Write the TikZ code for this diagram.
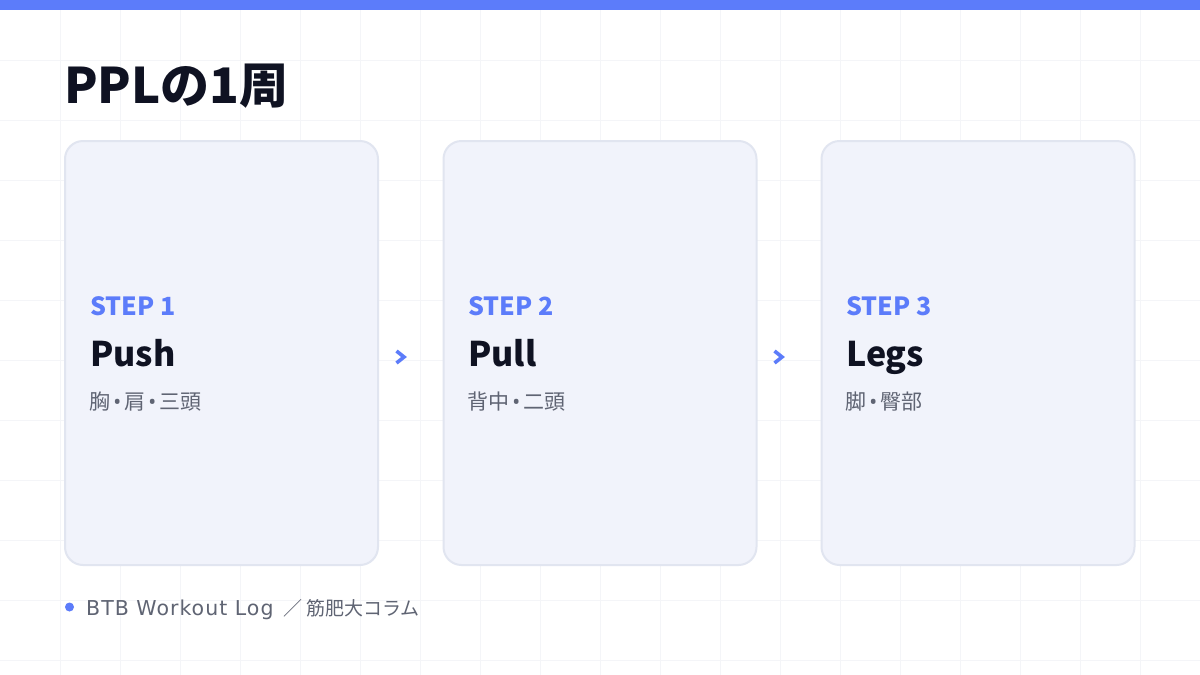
\documentclass[tikz,border=0pt]{standalone}
\usepackage{fontspec}
\setmainfont{Noto Sans CJK JP}
\newfontfamily\latinfont{Noto Sans}
\newfontfamily\footlatin[LetterSpace=5]{DejaVu Sans}
\newcommand{\mdot}{\makebox[14pt][c]{\latinfont\bfseries •}}
\definecolor{topblue}{HTML}{5C7CFA}
\definecolor{titlec}{HTML}{0F1222}
\definecolor{grayc}{HTML}{5F6473}
\definecolor{cardfill}{HTML}{F1F3FB}
\definecolor{cardline}{HTML}{E1E5F0}
\definecolor{gridc}{HTML}{F4F5F8}
\tikzset{
  card/.style={draw=cardline, fill=cardfill, line width=2pt, rounded corners=18pt,
    minimum width=313pt, minimum height=424pt, inner sep=0pt},
  steplbl/.style={anchor=base west, inner sep=0pt, text=topblue,
    font=\fontsize{25}{30}\selectfont\bfseries},
  headlbl/.style={anchor=base west, inner sep=0pt, text=titlec,
    font=\fontsize{34}{40}\selectfont\bfseries},
  sublbl/.style={anchor=base west, inner sep=0pt, text=grayc,
    font=\fontsize{21}{26}\selectfont},
  chevline/.style={draw=topblue, line width=3.6pt, line join=miter, line cap=butt},
}
\begin{document}
\begin{tikzpicture}[x=1pt,y=-1pt]
\useasboundingbox (0,0) rectangle (1200,675);
\fill[white] (0,0) rectangle (1200,675);
\foreach \gx in {60,120,...,1180} {\draw[gridc, line width=0.8pt] (\gx,0) -- (\gx,675);}
\foreach \gy in {60,120,...,660} {\draw[gridc, line width=0.8pt] (0,\gy) -- (1200,\gy);}
\fill[topblue] (0,0) rectangle (1200,10);

\node[anchor=base west, inner sep=0pt, text=titlec, font=\fontsize{49}{58}\selectfont\bfseries] (title) at (64,103) {PPLの1周};

\node[card] (c1) at (221.5,353) {};
\node[card] (c2) at (600,353) {};
\node[card] (c3) at (978,353) {};

\node[steplbl] (s1) at (90,315) {STEP 1};
\node[headlbl] (h1) at (90,366) {Push};
\node[sublbl] (b1) at (89,409) {胸\mdot 肩\mdot 三頭};

\node[steplbl] (s2) at (468,315) {STEP 2};
\node[headlbl] (h2) at (468,366) {Pull};
\node[sublbl] (b2) at (467,409) {背中\mdot 二頭};

\node[steplbl] (s3) at (846,315) {STEP 3};
\node[headlbl] (h3) at (846,366) {Legs};
\node[sublbl] (b3) at (845,409) {脚\mdot 臀部};

\coordinate (a1) at (401,357);
\coordinate (a2) at (779,357);
\foreach \a in {a1,a2} {
  \draw[chevline] ([shift={(-4.5,-6)}]\a) -- ([shift={(3,0)}]\a) -- ([shift={(-4.5,6)}]\a);
}

\fill[topblue] (69.5,607) circle (4.5pt);
\node[anchor=base west, inner sep=0pt, text=grayc, font=\fontsize{19}{24}\selectfont] (foot) at (86,615) {{\footlatin\fontsize{20.5}{24}\selectfont BTB Workout Log }\hspace{2pt}／\hspace{4pt}筋肥大コラム};
\end{tikzpicture}
\end{document}
